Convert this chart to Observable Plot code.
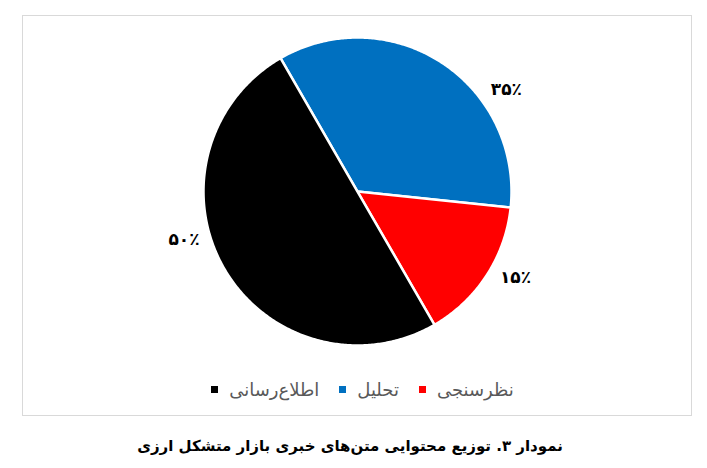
<!DOCTYPE html>
<html lang="fa">
<head>
<meta charset="utf-8">
<script src="https://cdn.jsdelivr.net/npm/d3@7"></script>
<script src="https://cdn.jsdelivr.net/npm/@observablehq/plot@0.6"></script>
<style>
  html, body { margin: 0; padding: 0; background: #fff; }
  body { width: 707px; height: 468px; position: relative; overflow: hidden; font-family: "DejaVu Sans", sans-serif; }
  #frame { position: absolute; left: 22px; top: 15px; width: 670px; height: 401px; border: 1px solid #d9d9d9; box-sizing: border-box; }
  #chart { position: absolute; left: 0; top: 0; }
  #legend { position: absolute; left: 0; width: 725px; top: 379px; display: flex; justify-content: center; align-items: center; direction: ltr; font-size: 18px; color: #595959; }
  .item { display: flex; align-items: center; margin: 0 10px; }
  .sw { width: 7px; height: 7px; margin-right: 11px; }
  #caption { position: absolute; left: 0; width: 700px; top: 437px; text-align: center; direction: rtl; font-size: 15px; font-weight: bold; color: #000; }
</style>
</head>
<body>
<div id="frame"></div>
<div id="chart"></div>
<div id="legend"></div>
<div id="caption">نمودار ۳. توزیع محتوایی متن‌های خبری بازار متشکل ارزی</div>
<script>
// Data
const categories = ["تحلیل", "نظرسنجی", "اطلاع‌رسانی"];
const values = [35, 15, 50];
const valueLabels = ["۳۵٪", "۱۵٪", "۵۰٪"];
const colors = ["#0070c0", "#ff0000", "#000000"];
const legendOrder = ["اطلاع‌رسانی", "تحلیل", "نظرسنجی"];

// Layout constants
const startDeg = -30;
const labelDeg = [55.7, 118.7, 254.4];
const labelR = 1.17;
const rad = d => d * Math.PI / 180;

const pie = d3.pie().sort(null).startAngle(rad(startDeg)).endAngle(rad(startDeg + 360));
const arcs = pie(values);

// Build polygon points for each slice (unit circle), angle clockwise from north
const slicePts = [];
arcs.forEach((a, i) => {
  const n = Math.max(8, Math.ceil((a.endAngle - a.startAngle) / 0.01));
  slicePts.push({cat: categories[i], x: 0, y: 0});
  for (let k = 0; k <= n; k++) {
    const t = a.startAngle + (a.endAngle - a.startAngle) * k / n;
    slicePts.push({cat: categories[i], x: Math.sin(t), y: Math.cos(t)});
  }
  slicePts.push({cat: categories[i], x: 0, y: 0});
});

const labels = categories.map((c, i) => ({
  label: valueLabels[i],
  x: labelR * Math.sin(rad(labelDeg[i])),
  y: labelR * Math.cos(rad(labelDeg[i]))
}));

const cx = 357, cy = 191, R = 154;
const chart = Plot.plot({
  width: 707,
  height: 370,
  style: {background: "transparent", overflow: "visible"},
  x: {domain: [-1, 1], range: [cx - R, cx + R], axis: null},
  y: {domain: [-1, 1], range: [cy + R, cy - R], axis: null},
  color: {domain: categories, range: colors},
  marks: [
    Plot.line(slicePts, {x: "x", y: "y", z: "cat", fill: "cat", stroke: "white", strokeWidth: 2.5, strokeLinejoin: "round", curve: "linear"}),
    Plot.text(labels, {x: "x", y: "y", text: "label", fontSize: 17, fontWeight: "bold", fill: "#000", fontFamily: "DejaVu Sans"})
  ]
});
document.getElementById("chart").appendChild(chart);

// Legend
const legend = document.getElementById("legend");
legendOrder.forEach(name => {
  const item = document.createElement("div");
  item.className = "item";
  const sw = document.createElement("div");
  sw.className = "sw";
  sw.style.background = chart.scale("color").apply(name);
  const tx = document.createElement("span");
  tx.textContent = name;
  item.appendChild(sw);
  item.appendChild(tx);
  legend.appendChild(item);
});
</script>
</body>
</html>
